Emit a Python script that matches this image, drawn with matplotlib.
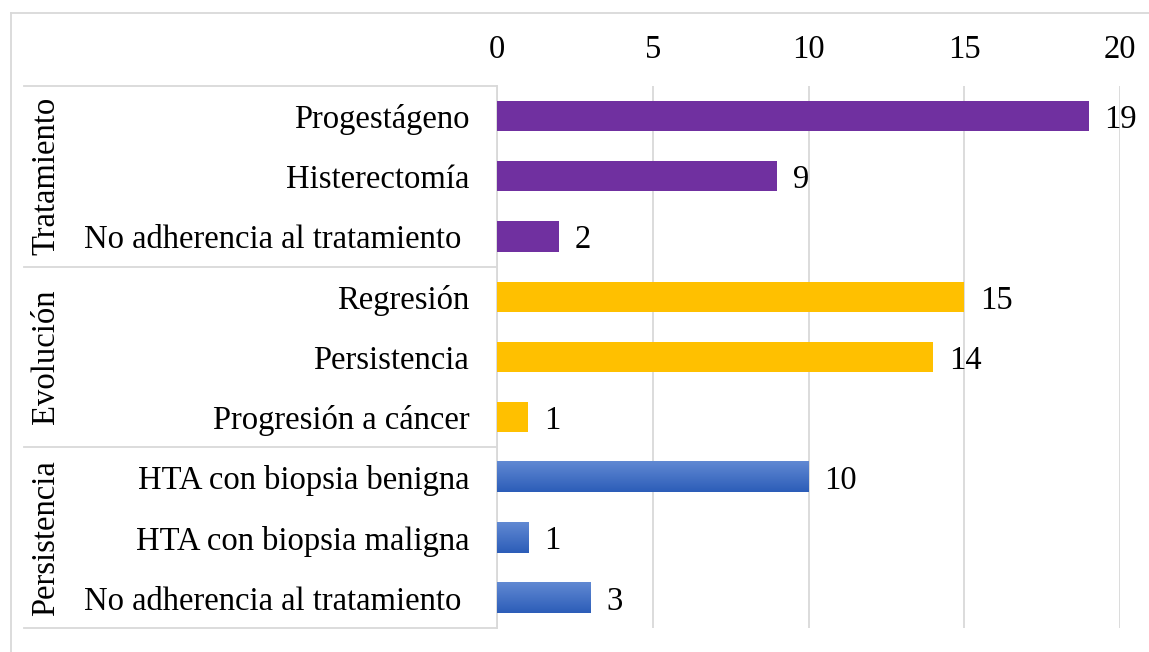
import matplotlib
matplotlib.use("Agg")
import matplotlib.pyplot as plt
import numpy as np
from matplotlib.lines import Line2D
from matplotlib.colors import LinearSegmentedColormap

plt.rcParams['font.family'] = ['Liberation Serif', 'DejaVu Serif']

groups = ["Tratamiento", "Evolución", "Persistencia"]
categories = [
    ["Progestágeno", "Histerectomía", "No adherencia al tratamiento "],
    ["Regresión", "Persistencia", "Progresión a cáncer"],
    ["HTA con biopsia benigna", "HTA con biopsia maligna", "No adherencia al tratamiento "],
]
values = [
    [19, 9, 2],
    [15, 14, 1],
    [10, 1, 3],
]
colors = ["#7030A0", "#FFC000", None]
x_ticks = [0, 5, 10, 15, 20]

W, H = 1149, 652
fig = plt.figure(figsize=(W / 100, H / 100), dpi=100)
left, right, top, bottom = 497, 1120, 86, 628
ax = fig.add_axes([left / W, 1 - bottom / H, (right - left) / W, (bottom - top) / H])

fs = 23.5
n = sum(len(c) for c in categories)
labels = []
ypos = []
bh = 0.5
blue_cmap = LinearSegmentedColormap.from_list("b", ["#2C5DB8", "#6189D3"])
i = 0
for g, (cats, vals, col) in enumerate(zip(categories, values, colors)):
    for c, v in zip(cats, vals):
        y = n - 1 - i
        labels.append(c)
        ypos.append(y)
        if col is not None:
            ax.barh(y, v, height=bh, color=col, zorder=3)
        else:
            grad = np.linspace(0, 1, 100).reshape(-1, 1)
            ax.imshow(grad, extent=[0, v, y - bh / 2, y + bh / 2], aspect='auto',
                      cmap=blue_cmap, origin='lower', zorder=3)
        ax.text(v + 0.5, y, str(v), va='center_baseline', ha='left', fontsize=fs, zorder=4)
        i += 1

ax.set_xlim(0, 20)
ax.set_ylim(-0.5, n - 0.5)
ax.set_yticks(ypos)
ax.set_yticklabels(labels, fontsize=fs, va='center_baseline')
ax.set_xticks(x_ticks)
ax.set_xticklabels([str(t) for t in x_ticks], fontsize=fs)
ax.xaxis.tick_top()
ax.tick_params(axis='both', length=0)
ax.tick_params(axis='y', pad=20)
ax.tick_params(axis='x', pad=15)
ax.grid(axis='x', color='#D9D9D9', linewidth=1.3, zorder=0)
for s in ['top', 'right', 'bottom']:
    ax.spines[s].set_visible(False)
ax.spines['left'].set_color('#D9D9D9')
ax.spines['left'].set_linewidth(1.3)

def fx(px):
    return px / W
def fy(py):
    return 1 - py / H

row_h = (bottom - top) / n
for k in range(len(groups) + 1):
    yy = top + k * 3 * row_h
    fig.add_artist(Line2D([fx(24), fx(left)], [fy(yy), fy(yy)], color='#D9D9D9', lw=1.3))
for k, g in enumerate(groups):
    yc = top + (k * 3 + 1.5) * row_h
    fig.text(fx(46), fy(yc), g, rotation=90, ha='center', va='center', fontsize=fs)

fig.add_artist(Line2D([fx(11), fx(W)], [fy(13), fy(13)], color='#D9D9D9', lw=1.3))
fig.add_artist(Line2D([fx(11), fx(11)], [fy(13), 0], color='#D9D9D9', lw=1.3))

fig.savefig("out.png", dpi=100)
